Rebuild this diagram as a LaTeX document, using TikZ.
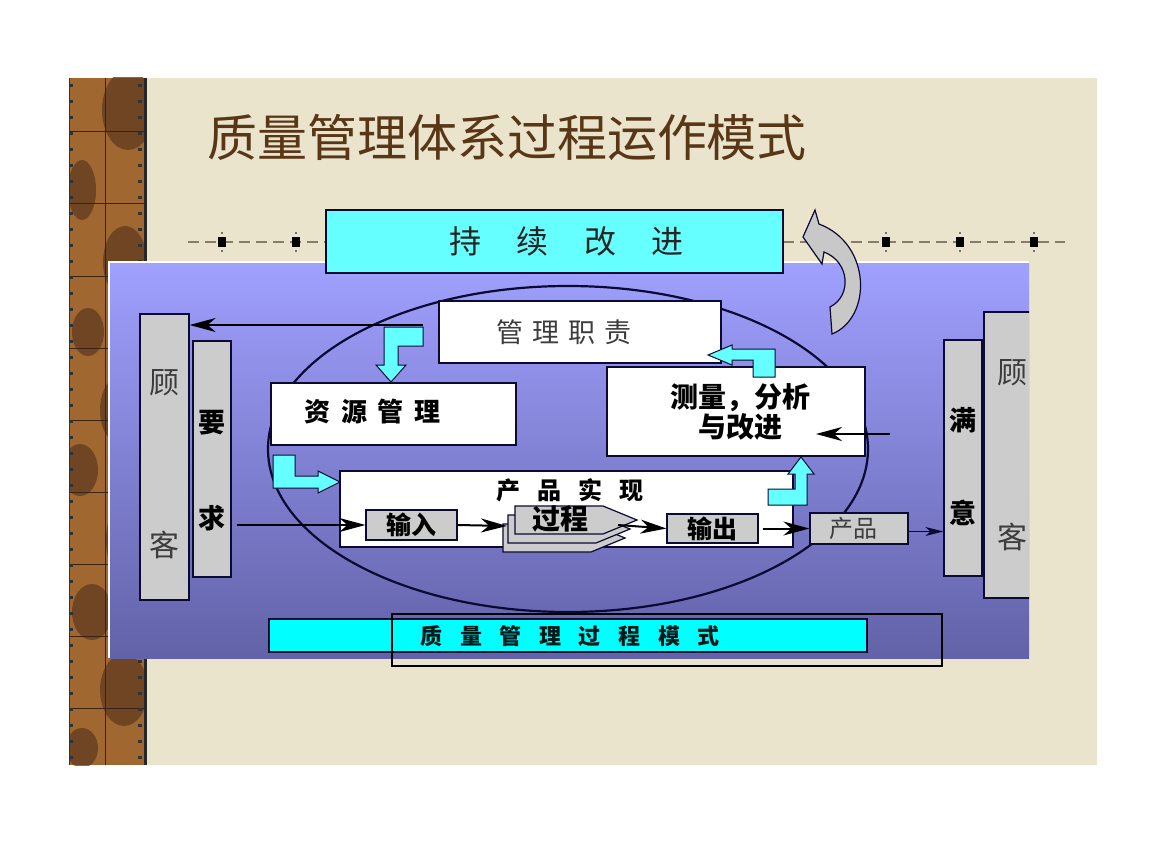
\documentclass[tikz,border=0pt]{standalone}
\usepackage{fontspec}
\setmainfont{Noto Sans CJK SC}
\usetikzlibrary{arrows.meta, positioning}
\definecolor{slidebg}{RGB}{234,228,204}
\definecolor{woodbase}{RGB}{160,104,48}
\definecolor{wooddark}{RGB}{96,58,32}
\definecolor{titlebrown}{RGB}{88,54,22}
\definecolor{panelTop}{RGB}{160,160,255}
\definecolor{panelMid}{RGB}{128,128,228}
\definecolor{panelBot}{RGB}{98,98,168}
\definecolor{cyanfill}{RGB}{102,255,255}
\definecolor{barcyan}{RGB}{0,255,255}
\definecolor{boxgray}{RGB}{204,204,204}
\definecolor{arrowgray}{RGB}{200,200,200}
\definecolor{edge}{RGB}{10,10,50}
\definecolor{dashcol}{RGB}{135,125,105}
\definecolor{softtext}{RGB}{60,60,60}

\tikzset{
  fs/.style={font=\fontsize{#1}{#1}\selectfont},
  fsb/.style={font=\fontsize{#1}{#1}\selectfont\bfseries},
  whitebox/.style={draw=edge, fill=white, line width=1.2pt, inner sep=0pt},
  graybox/.style={draw=edge, fill=boxgray, line width=1.2pt, inner sep=0pt},
  cyanbox/.style={draw=edge, fill=cyanfill, line width=1.2pt, inner sep=0pt},
  blockarrow/.style={draw=edge, fill=cyanfill, line width=1pt, line join=miter},
  arr/.style={-{Stealth[length=26pt, width=14pt, inset=8pt]}, line width=2pt, draw=black},
  thinarr/.style={-{Stealth[length=18pt, width=9pt, inset=5pt]}, line width=0.9pt, draw=edge},
}

\begin{document}
\begin{tikzpicture}[x=1pt, y=-1pt]
  \useasboundingbox (0,0) rectangle (1152,864);
  \fill[white] (0,0) rectangle (1152,864);

  % slide background and wooden strip
  \fill[slidebg] (146,78) rectangle (1097,765);
  \begin{scope}
    \clip (69,78) rectangle (145,765);
    \fill[woodbase] (69,78) rectangle (145,765);
    \foreach \cx/\cy/\rx/\ry in {128/110/26/40, 82/190/14/30, 125/262/22/36, 88/332/16/24,
                                 120/410/20/34, 80/470/18/26, 128/540/22/40, 92/612/20/28,
                                 124/690/24/36, 82/748/16/20}
      \fill[wooddark, opacity=0.75] (\cx,\cy) ellipse [x radius=\rx, y radius=\ry];
    \foreach \y in {132,204,276,348,420,492,564,636,708}
      \draw[wooddark!60!black, line width=1pt] (69,\y) -- (145,\y);
    \draw[wooddark!60!black, line width=1pt] (105,78) -- (105,765);
  \end{scope}
  \foreach \y in {84,100,...,756} {
    \fill[black!80] (69,\y) rectangle (73,\y+3);
    \fill[black!80] (138,\y) rectangle (142,\y+3);
  }
  \draw[black!80, line width=1pt] (69,78) -- (69,765);
  \draw[black!85, line width=3pt] (145,78) -- (145,765);

  % title
  \node[fs=50, text=titlebrown] (title) at (507,138) {质量管理体系过程运作模式};

  % dashed rule with markers
  \draw[dashcol, line width=2pt, dash pattern=on 11pt off 6pt] (188,242) -- (1065,242);
  \foreach \mx in {222,296,886,960,1034} {
    \fill[black] (\mx-4,237) rectangle (\mx+4,247);
    \fill[black] (\mx,233) circle (0.9);
    \fill[black] (\mx,251) circle (0.9);
  }

  % blue panel
  \shade[top color=panelTop, middle color=panelMid, bottom color=panelBot]
    (109,262) rectangle (1029,658);
  \draw[white, line width=1.5pt] (109,658) -- (109,262) -- (1029,262);

  % continual improvement
  \node[cyanbox, minimum width=457pt, minimum height=63pt] (cont) at (554.5,241.5) {};
  \node[fs=32, text=softtext!60!black] at ([xshift=12pt]cont.center)
    {持\hspace{1.1em}续\hspace{1.1em}改\hspace{1.1em}进};

  % curved improvement arrow
  \filldraw[fill=arrowgray, draw=edge, line width=1.2pt, line join=miter]
    (815,210) -- (803,237) -- (822,264) -- (824,252)
    .. controls (850,262) and (852,296) .. (830,307) -- (832,334)
    .. controls (872,318) and (872,244) .. (819,224) -- cycle;

  % process ellipse
  \draw[edge, line width=2.2pt] (568,449) ellipse [x radius=300, y radius=163];

  % customer columns
  \node[graybox, minimum width=49pt, minimum height=286pt] (custL) at (164.5,457) {};
  \node[fs=30, text=softtext] at (164.5,383) {顾};
  \node[fs=30, text=softtext] at (164.5,545) {客};
  \node[graybox, minimum width=38pt, minimum height=236pt] (req) at (212,459) {};
  \node[fsb=27] at (212,423) {要};
  \node[fsb=27] at (212,518) {求};

  \node[graybox, minimum width=38pt, minimum height=236pt] (sat) at (963,458) {};
  \node[fsb=27] at (963,420) {满};
  \node[fsb=27] at (963,513) {意};
  \begin{scope}
    \clip (109,262) rectangle (1029,658);
    \node[graybox, minimum width=60pt, minimum height=286pt] (custR) at (1014,455) {};
  \end{scope}
  \node[fs=30, text=softtext] at (1012,373) {顾};
  \node[fs=30, text=softtext] at (1012,537) {客};

  % management blocks
  \node[whitebox, minimum width=282pt, minimum height=62pt] (mgmt) at (580,332) {};
  \node[fs=27, text=softtext] at ([xshift=-16pt]mgmt.center)
    {管\hspace{0.33em}理\hspace{0.33em}职\hspace{0.33em}责};
  \node[whitebox, minimum width=245pt, minimum height=62pt] (res) at (393.5,414) {};
  \node[fsb=26] at ([xshift=-21pt, yshift=2pt]res.center)
    {资\hspace{0.4em}源\hspace{0.4em}管\hspace{0.4em}理};
  \node[whitebox, minimum width=258pt, minimum height=89pt] (meas) at (736,411.5) {};
  \node[font=\fontsize{28}{30}\selectfont\bfseries, align=center] at ([xshift=4pt]meas.center)
    {测量，分析\\与改进};

  % product realization
  \node[whitebox, minimum width=453pt, minimum height=76pt] (real) at (566.5,509) {};
  \node[fsb=24] at (570,490) {产\hspace{0.7em}品\hspace{0.7em}实\hspace{0.7em}现};
  \node[graybox, minimum width=91pt, minimum height=30pt] (inp) at (411.5,525) {};
  \node[fsb=25] at (inp.center) {输入};
  \foreach \dx/\dy in {-12/18, -7/9, 0/0}
    \filldraw[fill=boxgray, draw=edge, line width=1.2pt, shift={(\dx,\dy)}]
      (515,506) -- (603,506) -- (637,520) -- (603,534) -- (515,534) -- cycle;
  \node[fsb=28] (proc) at (560,519) {过程};
  \coordinate (procL) at (507,526);
  \coordinate (procR) at (618,525);
  \node[graybox, minimum width=91pt, minimum height=29pt] (outp) at (712.5,528.5) {};
  \node[fsb=25] at (outp.center) {输出};
  \node[graybox, minimum width=98pt, minimum height=31pt] (prod) at (859,528.5) {};
  \node[fs=24, text=softtext] at ([xshift=-6pt]prod.center) {产品};

  % connectors
  \coordinate (mgmtL) at (423,325);
  \draw[arr] (mgmtL) -- (mgmtL -| custL.east);
  \draw[arr] ([xshift=5pt]req.east |- inp.west) -- (inp.west);
  \draw[arr] (inp.east) -- (procL);
  \draw[arr] (procR) -- (outp.west);
  \draw[arr] ([xshift=4pt]outp.east) -- (prod.west);
  \draw[thinarr] ([yshift=-3pt]prod.east) -- ([yshift=-3pt]prod.east -| sat.west);
  \coordinate (measR) at (890,434);
  \coordinate (measIn) at (816,434);
  \draw[arr] (measR) -- (measIn);

  % block arrows
  \filldraw[blockarrow] (423,327) -- (384,327) -- (384,365) -- (376,365) -- (391,382)
    -- (406,365) -- (398,365) -- (398,346) -- (423,346) -- cycle;
  \filldraw[blockarrow] (273,455) -- (295,455) -- (295,476) -- (318,476) -- (318,471)
    -- (340,482) -- (318,493) -- (318,488) -- (273,488) -- cycle;
  \filldraw[blockarrow] (768,505) -- (768,489) -- (795,489) -- (795,474) -- (788,474)
    -- (801,457) -- (814,474) -- (807,474) -- (807,505) -- cycle;
  \filldraw[blockarrow] (775,377) -- (775,349) -- (732,349) -- (732,345) -- (708,355)
    -- (732,365) -- (732,360) -- (753,360) -- (753,377) -- cycle;

  % quality process model bar
  \node[draw=edge, fill=barcyan, line width=1.4pt, inner sep=0pt,
        minimum width=598pt, minimum height=33pt] (qbar) at (568,635.5) {};
  \node[fsb=22, text=black!80!teal] at (570,636)
    {质\hspace{0.8em}量\hspace{0.8em}管\hspace{0.8em}理\hspace{0.8em}过\hspace{0.8em}程\hspace{0.8em}模\hspace{0.8em}式};
  \draw[black, line width=1.4pt] (392,614) rectangle (942,666);
\end{tikzpicture}
\end{document}
